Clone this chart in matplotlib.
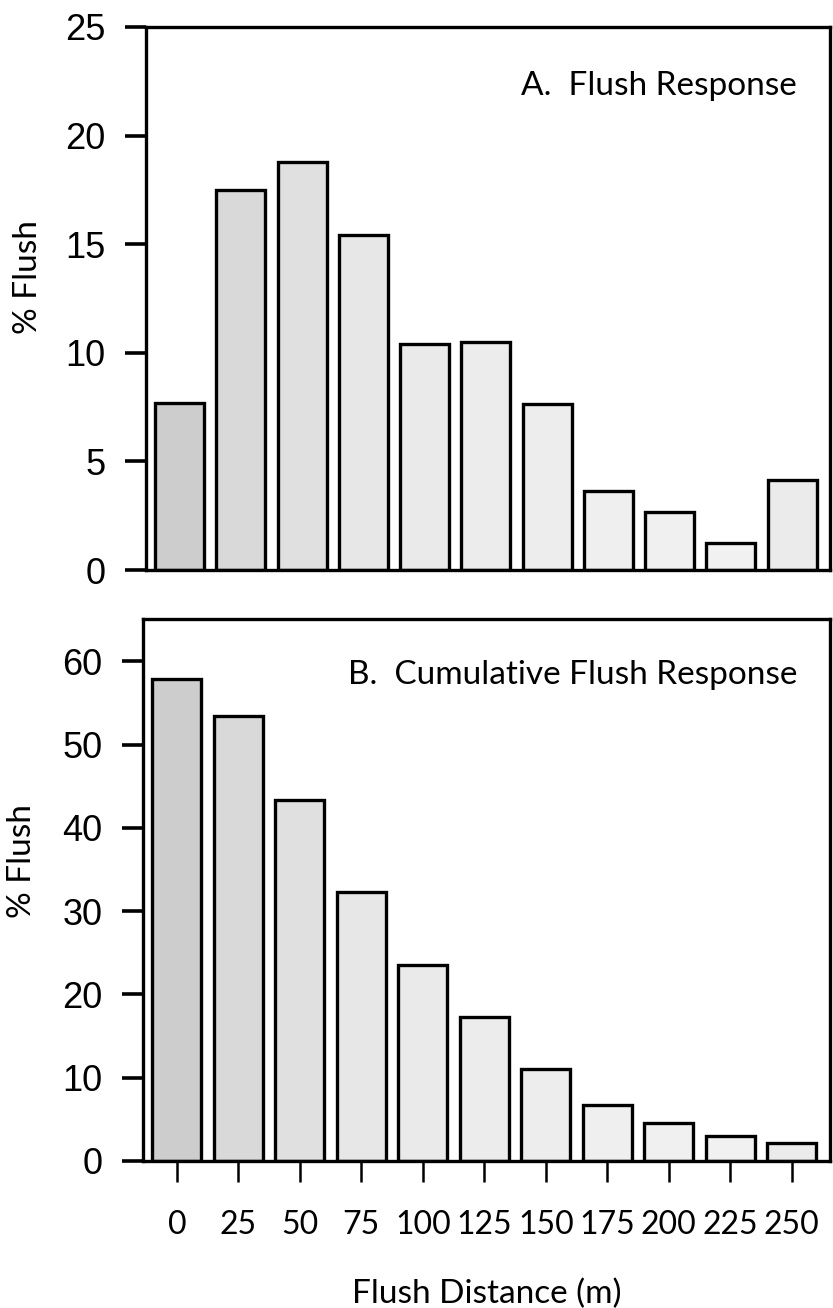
import numpy as np
import matplotlib.pyplot as plt

# flush distance classes (m) and percent of birds flushing
distance = ["0", "25", "50", "75", "100", "125", "150", "175", "200", "225", "250"]
flush_pct = [7.7, 17.5, 18.8, 15.4, 10.4, 10.5, 7.65, 3.65, 2.65, 1.25, 4.15]
cumulative_pct = [57.9, 53.4, 43.3, 32.3, 23.5, 17.3, 11.1, 6.7, 4.6, 3.0, 2.2]

# stippled grey fills, darker for the first classes
fills = ["#cdcdcd", "#d9d9d9", "#e0e0e0", "#e7e7e7", "#eaeaea", "#ececec",
         "#ededed", "#efefef", "#f0f0f0", "#f1f1f1", "#ebebeb"]

tick_font = "Liberation Sans"
text_font = "Lato"

fig = plt.figure(figsize=(8.33, 13.08), dpi=100)
axA = fig.add_axes([0.1753, 0.5642, 0.8211, 0.4152])
axB = fig.add_axes([0.1717, 0.1124, 0.8247, 0.4144])

x = np.arange(len(distance))

for ax, vals, ymax, yticks in [(axA, flush_pct, 25, np.arange(0, 26, 5)),
                               (axB, cumulative_pct, 65.1, np.arange(0, 61, 10))]:
    ax.bar(x, vals, width=0.8, color=fills, edgecolor="black", linewidth=2.4, zorder=2)
    ax.set_xlim(-0.55, 10.62)
    ax.set_ylim(0, ymax)
    ax.set_yticks(yticks)
    ax.set_yticklabels([str(t) for t in yticks], fontsize=26, family=tick_font)
    ax.tick_params(axis="y", direction="out", length=15, width=2.6, pad=14)
    for s in ax.spines.values():
        s.set_linewidth(2.4)
    ax.set_ylabel("% Flush", fontsize=24, family=text_font)

axA.set_xticks([])
axA.yaxis.set_label_coords(-0.15, 0.54)
axB.yaxis.set_label_coords(-0.155, 0.553)

axB.set_xticks(x)
axB.set_xticklabels(distance, fontsize=23, family=text_font)
axB.tick_params(axis="x", direction="out", length=15, width=1.8, pad=20)
axB.set_xlabel("Flush Distance (m)", fontsize=24, family=text_font, labelpad=28)

axA.text(0.952, 0.891, "A.  Flush Response", transform=axA.transAxes,
         ha="right", va="center", fontsize=24, family=text_font)
axB.text(0.953, 0.897, "B.  Cumulative Flush Response", transform=axB.transAxes,
         ha="right", va="center", fontsize=24, family=text_font)

plt.savefig("out.png", dpi=100)
